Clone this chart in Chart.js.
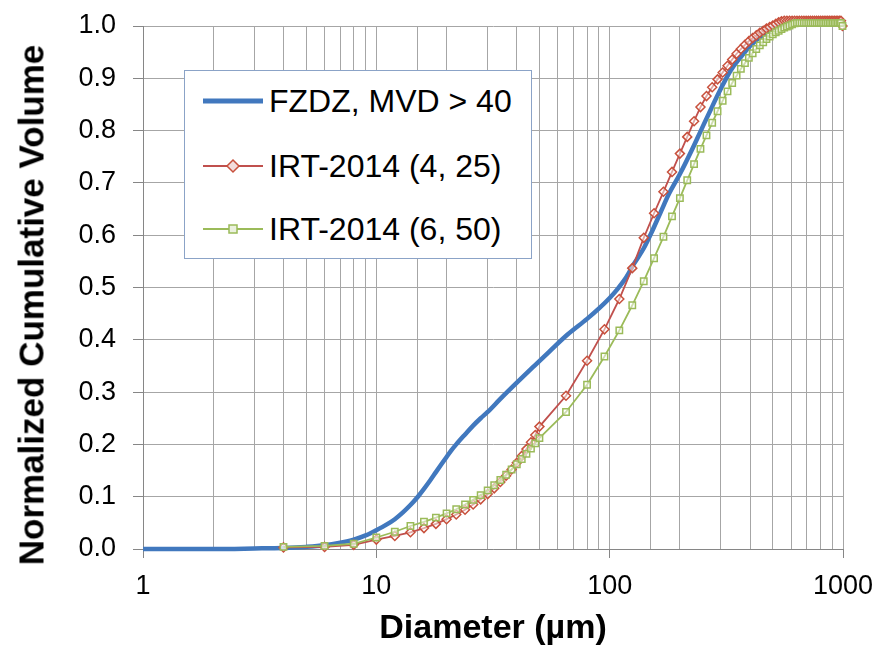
<!DOCTYPE html>
<html>
<head>
<meta charset="utf-8">
<script src="https://cdn.jsdelivr.net/npm/chart.js@4.4.1/dist/chart.umd.min.js"></script>
<style>
    html, body { margin: 0; padding: 0; background: #fff; }
    #wrap { position: relative; width: 877px; height: 647px; }
    #legend {
        position: absolute; left: 184px; top: 70px; width: 346px; height: 187px;
        border: 1px solid #8BA3C7; background: #fff;
        font-family: 'Liberation Sans', Arial, sans-serif; font-size: 32px; color: #000;
    }
    .row { position: absolute; left: 18px; height: 40px; display: flex; align-items: center; white-space: nowrap; }
    .row svg { margin-right: 6px; }
    #ytitle {
        position: absolute; left: 31px; top: 305px; transform: translate(-50%, -50%) rotate(-90deg);
        font-family: 'Liberation Sans', Arial, sans-serif; font-size: 35px; font-weight: bold;
        white-space: nowrap; color: #000; line-height: 1;
    }
</style>
</head>
<body>
<div id="wrap">
    <canvas id="chart" width="877" height="647"></canvas>
    <div id="ytitle">Normalized Cumulative Volume</div>
    <div id="legend">
        <div class="row" style="top:10px">
            <svg width="60" height="20"><line x1="0" y1="10" x2="60" y2="10" stroke="#4178BE" stroke-width="5"/></svg>
            FZDZ, MVD &gt; 40
        </div>
        <div class="row" style="top:75px">
            <svg width="60" height="20"><line x1="0" y1="10" x2="60" y2="10" stroke="#C0504D" stroke-width="2"/>
                <polygon points="30,4 36,10 30,16 24,10" fill="#F2DCDB" stroke="#C8503C" stroke-width="1.5"/></svg>
            IRT-2014 (4, 25)
        </div>
        <div class="row" style="top:138px">
            <svg width="60" height="20"><line x1="0" y1="10" x2="60" y2="10" stroke="#9BBB59" stroke-width="2"/>
                <rect x="26" y="6" width="8" height="8" fill="#EBF1DE" stroke="#9BBB59" stroke-width="1.5"/></svg>
            IRT-2014 (6, 50)
        </div>
    </div>
</div>
<script>
// Diameters (µm) of the FZDZ curve and its normalized cumulative volume
const fzdzDiameters = [1, 2, 3, 4, 5, 6, 7, 8, 9, 10, 11, 12, 13, 14, 15, 16, 17, 18, 19, 20, 21, 22, 24, 26, 28, 30,
    34, 40, 47, 55, 66, 80, 91, 100, 108, 118, 127, 140, 150, 165, 180, 200, 225, 246, 271, 298, 330, 364, 400, 450,
    500, 560, 1000];
const fzdzValues = [0, 0, 0.001, 0.002, 0.004, 0.007, 0.012, 0.018, 0.026, 0.036, 0.046, 0.057, 0.070, 0.084, 0.099,
    0.115, 0.131, 0.147, 0.162, 0.176, 0.189, 0.200, 0.219, 0.236, 0.250, 0.262, 0.287, 0.318, 0.348, 0.377, 0.410,
    0.440, 0.462, 0.480, 0.497, 0.520, 0.545, 0.575, 0.602, 0.643, 0.680, 0.717, 0.763, 0.800, 0.840, 0.878, 0.915,
    0.940, 0.962, 0.982, 0.995, 1.003, 1.003];

// Bin diameters (µm) shared by both IRT-2014 curves
const irtDiameters = [4, 6, 8, 10, 12, 14, 16, 18, 20, 22, 24, 26, 28, 30, 32, 34, 36, 38, 40, 42, 44, 46, 48, 50,
    65, 80, 95, 110, 125, 140, 155, 170, 185, 200, 215, 230, 245, 260, 275, 290, 305, 320, 335, 350, 365, 380, 395,
    410, 425, 440, 455, 470, 485, 500, 515, 530, 545, 560, 575, 590, 605, 620, 635, 650, 665, 680, 695, 710, 725, 740,
    755, 770, 785, 800, 815, 830, 845, 860, 875, 890, 905, 920, 935, 950, 965, 980, 995];

const irt425Values = [0.003, 0.004, 0.008, 0.018, 0.025, 0.032, 0.040, 0.048, 0.057, 0.066, 0.075, 0.085, 0.095,
    0.105, 0.116, 0.128, 0.140, 0.152, 0.165, 0.178, 0.191, 0.204, 0.218, 0.234,
    0.293, 0.360, 0.420, 0.478, 0.537, 0.595, 0.642, 0.683, 0.721, 0.756, 0.788, 0.818, 0.845, 0.866, 0.883, 0.898,
    0.911, 0.924, 0.936, 0.947, 0.956, 0.964, 0.971, 0.977, 0.982, 0.987, 0.991, 0.995, 0.998, 1.001, 1.004, 1.007,
    1.009, 1.010, 1.010, 1.010, 1.010, 1.010, 1.010, 1.010, 1.010, 1.010, 1.010, 1.010, 1.010, 1.010, 1.010, 1.010,
    1.010, 1.010, 1.010, 1.010, 1.010, 1.010, 1.010, 1.010, 1.010, 1.010, 1.010, 1.010, 1.010, 1.010, 1.000];

const irt650Values = [0.004, 0.006, 0.010, 0.022, 0.033, 0.044, 0.052, 0.060, 0.068, 0.076, 0.085, 0.094, 0.103,
    0.112, 0.122, 0.132, 0.142, 0.152, 0.162, 0.172, 0.182, 0.192, 0.202, 0.212,
    0.262, 0.314, 0.368, 0.418, 0.466, 0.512, 0.556, 0.597, 0.636, 0.671, 0.705, 0.736, 0.765, 0.791, 0.815, 0.837,
    0.857, 0.875, 0.891, 0.905, 0.918, 0.929, 0.939, 0.948, 0.956, 0.963, 0.969, 0.975, 0.980, 0.984, 0.988, 0.991,
    0.994, 0.997, 0.999, 1.001, 1.003, 1.005, 1.006, 1.006, 1.006, 1.006, 1.006, 1.006, 1.006, 1.006, 1.006, 1.006,
    1.006, 1.006, 1.006, 1.006, 1.006, 1.006, 1.006, 1.006, 1.006, 1.006, 1.006, 1.006, 1.006, 1.006, 1.000];

const xTickLabels = [1, 10, 100, 1000];

Chart.defaults.font.family = "'Liberation Sans', Arial, sans-serif";
Chart.defaults.color = '#000';

function pairs(xs, ys) {
    return xs.map((x, i) => ({ x: x, y: ys[i] }));
}

const ctx = document.getElementById('chart').getContext('2d');

new Chart(ctx, {
    type: 'line',
    data: {
        datasets: [
            {
                label: 'FZDZ, MVD > 40',
                data: pairs(fzdzDiameters, fzdzValues),
                borderColor: '#4178BE',
                borderWidth: 4.5,
                pointRadius: 0,
                cubicInterpolationMode: 'monotone',
                clip: false,
                order: 3
            },
            {
                label: 'IRT-2014 (4, 25)',
                data: pairs(irtDiameters, irt425Values),
                borderColor: '#C0504D',
                borderWidth: 1.8,
                pointStyle: 'rectRot',
                pointRadius: 4.5,
                pointBorderWidth: 1.5,
                pointBorderColor: '#C8503C',
                pointBackgroundColor: 'rgba(255,255,255,0.5)',
                clip: false,
                order: 2
            },
            {
                label: 'IRT-2014 (6, 50)',
                data: pairs(irtDiameters, irt650Values),
                borderColor: '#9BBB59',
                borderWidth: 1.8,
                pointStyle: 'rect',
                pointRadius: 4.5,
                pointBorderWidth: 1.5,
                pointBorderColor: '#9BBB59',
                pointBackgroundColor: 'rgba(255,255,255,0.5)',
                clip: false,
                order: 1
            }
        ]
    },
    options: {
        responsive: false,
        animation: false,
        layout: { padding: { top: 26, right: 34, left: 0, bottom: 0 } },
        plugins: {
            legend: { display: false },
            tooltip: { enabled: false }
        },
        scales: {
            x: {
                type: 'logarithmic',
                min: 1,
                max: 1000,
                afterFit: function(scale) {
                    scale.height = 98;
                    scale.paddingLeft = 0;
                    scale.paddingRight = 0;
                },
                ticks: {
                    autoSkip: false,
                    maxRotation: 0,
                    padding: 12,
                    font: { size: 27 },
                    callback: function(value) {
                        return xTickLabels.includes(value) ? String(value) : '';
                    }
                },
                grid: {
                    color: '#A6A6A6',
                    lineWidth: 1,
                    tickLength: 9,
                    tickColor: function(c) {
                        return c.tick && xTickLabels.includes(c.tick.value) ? '#868686' : 'rgba(0,0,0,0)';
                    }
                },
                border: { color: '#868686' },
                title: {
                    display: true,
                    text: 'Diameter (µm)',
                    font: { size: 34, weight: 'bold', lineHeight: 1 },
                    padding: { top: 0, bottom: 1 }
                }
            },
            y: {
                min: 0,
                max: 1,
                afterFit: function(scale) {
                    scale.width = 143;
                    scale.paddingTop = 0;
                    scale.paddingBottom = 0;
                },
                ticks: {
                    stepSize: 0.1,
                    padding: 17,
                    font: { size: 27 },
                    callback: function(value) { return value.toFixed(1); }
                },
                grid: {
                    color: '#A6A6A6',
                    lineWidth: 1,
                    tickLength: 10,
                    tickColor: '#868686'
                },
                border: { color: '#868686' }
            }
        }
    }
});
</script>
</body>
</html>
